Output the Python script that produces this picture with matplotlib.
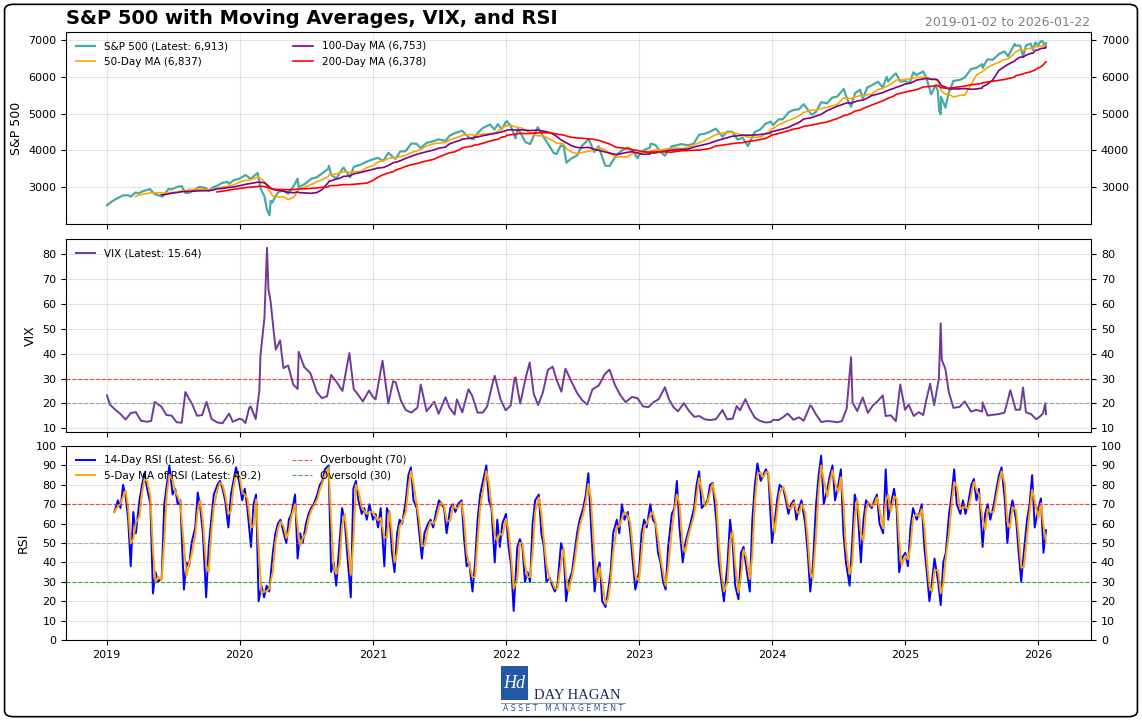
import numpy as np
import pandas as pd
import matplotlib
matplotlib.use('Agg')
import matplotlib.pyplot as plt
import matplotlib.dates as mdates
from matplotlib.patches import FancyBboxPatch, Rectangle
from matplotlib.lines import Line2D

# S&P 500 closes
spx_dates = [
    '2019-01-02', '2019-01-15', '2019-01-31', '2019-02-15', '2019-02-28', '2019-03-08', '2019-03-21',
    '2019-03-29', '2019-04-15', '2019-04-30', '2019-05-13', '2019-05-31', '2019-06-03', '2019-06-20',
    '2019-06-28', '2019-07-15', '2019-07-26', '2019-08-05', '2019-08-15', '2019-08-30', '2019-09-12',
    '2019-09-30', '2019-10-08', '2019-10-18', '2019-10-31', '2019-11-15', '2019-11-29', '2019-12-03',
    '2019-12-16', '2019-12-31',
    '2020-01-17', '2020-01-31', '2020-02-19', '2020-02-28', '2020-03-09', '2020-03-16', '2020-03-23',
    '2020-03-26', '2020-03-31', '2020-04-08', '2020-04-17', '2020-04-30', '2020-05-13', '2020-05-29',
    '2020-06-08', '2020-06-11', '2020-06-30', '2020-07-15', '2020-07-31', '2020-08-14', '2020-08-31',
    '2020-09-02', '2020-09-08', '2020-09-23', '2020-09-30', '2020-10-12', '2020-10-30', '2020-11-09',
    '2020-11-30', '2020-12-15', '2020-12-31',
    '2021-01-14', '2021-01-29', '2021-02-12', '2021-02-26', '2021-03-04', '2021-03-17', '2021-03-31',
    '2021-04-16', '2021-04-30', '2021-05-12', '2021-05-28', '2021-06-15', '2021-06-30', '2021-07-19',
    '2021-07-30', '2021-08-13', '2021-08-31', '2021-09-02', '2021-09-20', '2021-09-30', '2021-10-04',
    '2021-10-15', '2021-10-29', '2021-11-18', '2021-11-30', '2021-12-10', '2021-12-20', '2021-12-31',
    '2022-01-03', '2022-01-14', '2022-01-27', '2022-02-02', '2022-02-14', '2022-02-23', '2022-03-08',
    '2022-03-29', '2022-04-12', '2022-04-29', '2022-05-12', '2022-05-20', '2022-05-31', '2022-06-08',
    '2022-06-16', '2022-06-30', '2022-07-15', '2022-07-29', '2022-08-16', '2022-08-31', '2022-09-12',
    '2022-09-30', '2022-10-12', '2022-10-31', '2022-11-15', '2022-11-30', '2022-12-13', '2022-12-28',
    '2022-12-30',
    '2023-01-13', '2023-01-31', '2023-02-02', '2023-02-15', '2023-02-28', '2023-03-13', '2023-03-31',
    '2023-04-14', '2023-04-28', '2023-05-15', '2023-05-31', '2023-06-15', '2023-06-30', '2023-07-14',
    '2023-07-31', '2023-08-18', '2023-08-31', '2023-09-14', '2023-09-29', '2023-10-12', '2023-10-27',
    '2023-11-15', '2023-11-30', '2023-12-14', '2023-12-28', '2023-12-29',
    '2024-01-04', '2024-01-19', '2024-01-31', '2024-02-15', '2024-02-29', '2024-03-15', '2024-03-28',
    '2024-04-19', '2024-04-30', '2024-05-15', '2024-05-31', '2024-06-14', '2024-06-28', '2024-07-16',
    '2024-07-25', '2024-08-05', '2024-08-16', '2024-08-30', '2024-09-06', '2024-09-19', '2024-09-30',
    '2024-10-18', '2024-10-31', '2024-11-11', '2024-11-15', '2024-11-29', '2024-12-06', '2024-12-18',
    '2024-12-31',
    '2025-01-13', '2025-01-23', '2025-01-31', '2025-02-19', '2025-02-28', '2025-03-13', '2025-03-25',
    '2025-03-31', '2025-04-04', '2025-04-08', '2025-04-09', '2025-04-21', '2025-04-30', '2025-05-13',
    '2025-05-30', '2025-06-13', '2025-06-30', '2025-07-15', '2025-07-31', '2025-08-01', '2025-08-14',
    '2025-08-29', '2025-09-15', '2025-09-30', '2025-10-10', '2025-10-28', '2025-10-31', '2025-11-12',
    '2025-11-20', '2025-11-28', '2025-12-11', '2025-12-17', '2025-12-24', '2025-12-31',
    '2026-01-06', '2026-01-12', '2026-01-20', '2026-01-22',
]
spx_values = [
    2510, 2610, 2704, 2775, 2784, 2743, 2855, 2834, 2906, 2946, 2812, 2752, 2744, 2954, 2942, 3014,
    3026, 2845, 2848, 2926, 3010, 2977, 2893, 2986, 3038, 3120, 3141, 3093, 3191, 3231,
    3330, 3226, 3386, 2954, 2747, 2386, 2237, 2630, 2585, 2750, 2875, 2912, 2820, 3044, 3232, 3002,
    3100, 3227, 3271, 3373, 3500, 3580, 3332, 3237, 3363, 3534, 3270, 3550, 3622, 3695, 3756,
    3796, 3714, 3934, 3811, 3768, 3974, 3973, 4185, 4181, 4063, 4204, 4246, 4298, 4258, 4395, 4468,
    4523, 4537, 4358, 4308, 4300, 4471, 4605, 4704, 4567, 4712, 4568, 4766,
    4797, 4663, 4326, 4589, 4401, 4225, 4170, 4631, 4397, 4132, 3930, 3901, 4132, 4116, 3667, 3785,
    3863, 4130, 4305, 3955, 4110, 3586, 3577, 3872, 3992, 4080, 4019, 3783, 3840,
    3999, 4077, 4180, 4148, 3970, 3855, 4109, 4138, 4169, 4136, 4180, 4426, 4450, 4505, 4589, 4370,
    4508, 4505, 4288, 4349, 4117, 4502, 4568, 4720, 4783, 4770,
    4688, 4840, 4846, 5030, 5096, 5117, 5254, 4967, 5036, 5308, 5278, 5432, 5460, 5667, 5400, 5186,
    5554, 5648, 5408, 5713, 5762, 5864, 5705, 6001, 5870, 6032, 6090, 5872, 5882,
    5836, 6119, 6041, 6144, 5955, 5522, 5777, 5612, 5074, 4982, 5457, 5158, 5569, 5886, 5912, 5977,
    6205, 6244, 6339, 6238, 6469, 6460, 6615, 6688, 6553, 6891, 6840, 6851, 6539, 6849, 6901, 6721,
    6932, 6845,
    6944, 6977, 6797, 6913,
]

# VIX closes
vix_dates = [
    '2019-01-02', '2019-01-10', '2019-01-25', '2019-02-08', '2019-02-22', '2019-03-08', '2019-03-22',
    '2019-04-05', '2019-04-22', '2019-05-03', '2019-05-13', '2019-05-31', '2019-06-14', '2019-06-28',
    '2019-07-12', '2019-07-26', '2019-08-05', '2019-08-14', '2019-08-23', '2019-09-06', '2019-09-20',
    '2019-10-02', '2019-10-16', '2019-11-01', '2019-11-15', '2019-12-03', '2019-12-13', '2019-12-31',
    '2020-01-08', '2020-01-17', '2020-01-27', '2020-01-31', '2020-02-14', '2020-02-24', '2020-02-27',
    '2020-03-09', '2020-03-16', '2020-03-20', '2020-03-26', '2020-04-02', '2020-04-09', '2020-04-21',
    '2020-04-30', '2020-05-13', '2020-05-27', '2020-06-08', '2020-06-11', '2020-06-26', '2020-07-13',
    '2020-07-31', '2020-08-14', '2020-08-28', '2020-09-08', '2020-09-23', '2020-10-09', '2020-10-28',
    '2020-11-09', '2020-11-20', '2020-12-04', '2020-12-21', '2020-12-31',
    '2021-01-08', '2021-01-27', '2021-02-12', '2021-02-25', '2021-03-04', '2021-03-19', '2021-04-01',
    '2021-04-16', '2021-05-03', '2021-05-12', '2021-05-28', '2021-06-18', '2021-06-30', '2021-07-19',
    '2021-07-30', '2021-08-13', '2021-08-19', '2021-09-03', '2021-09-20', '2021-09-30', '2021-10-15',
    '2021-10-29', '2021-11-10', '2021-11-26', '2021-12-01', '2021-12-17', '2021-12-31',
    '2022-01-14', '2022-01-24', '2022-01-27', '2022-02-09', '2022-02-24', '2022-03-07', '2022-03-18',
    '2022-03-30', '2022-04-12', '2022-04-26', '2022-05-09', '2022-05-20', '2022-06-02', '2022-06-13',
    '2022-06-30', '2022-07-15', '2022-07-29', '2022-08-12', '2022-08-26', '2022-09-13', '2022-09-29',
    '2022-10-12', '2022-10-27', '2022-11-10', '2022-11-25', '2022-12-13', '2022-12-28',
    '2023-01-12', '2023-01-27', '2023-02-10', '2023-02-24', '2023-03-13', '2023-03-24', '2023-04-06',
    '2023-04-18', '2023-05-04', '2023-05-19', '2023-06-02', '2023-06-16', '2023-06-30', '2023-07-14',
    '2023-07-31', '2023-08-18', '2023-08-31', '2023-09-15', '2023-09-26', '2023-10-05', '2023-10-20',
    '2023-10-31', '2023-11-15', '2023-11-30', '2023-12-15', '2023-12-28',
    '2024-01-05', '2024-01-19', '2024-01-31', '2024-02-13', '2024-02-29', '2024-03-15', '2024-03-28',
    '2024-04-15', '2024-04-19', '2024-04-30', '2024-05-15', '2024-05-31', '2024-06-14', '2024-06-28',
    '2024-07-11', '2024-07-24', '2024-08-05', '2024-08-09', '2024-08-22', '2024-09-06', '2024-09-20',
    '2024-10-04', '2024-10-15', '2024-10-31', '2024-11-08', '2024-11-22', '2024-12-06', '2024-12-18',
    '2024-12-31',
    '2025-01-10', '2025-01-24', '2025-02-07', '2025-02-19', '2025-02-27', '2025-03-10', '2025-03-21',
    '2025-04-03', '2025-04-08', '2025-04-11', '2025-04-21', '2025-04-30', '2025-05-13', '2025-05-30',
    '2025-06-13', '2025-06-30', '2025-07-15', '2025-07-31', '2025-08-01', '2025-08-15', '2025-08-29',
    '2025-09-15', '2025-09-30', '2025-10-10', '2025-10-16', '2025-10-31', '2025-11-12', '2025-11-20',
    '2025-11-28', '2025-12-12', '2025-12-26',
    '2026-01-06', '2026-01-14', '2026-01-20', '2026-01-22',
]
vix_values = [
    23.2, 19.5, 17.4, 15.7, 13.5, 16.1, 16.5, 13.0, 12.6, 12.9, 20.6, 18.7, 15.3, 15.1, 12.4, 12.2,
    24.6, 22.1, 19.9, 15.0, 15.3, 20.6, 13.7, 12.3, 12.0, 15.9, 12.6, 13.8,
    13.5, 12.1, 18.2, 18.8, 13.7, 25.0, 39.2, 54.5, 82.7, 66.0, 61.0, 50.9, 41.7, 45.4, 34.2, 35.3,
    27.6, 25.8, 40.8, 34.7, 32.2, 24.5, 22.1, 22.9, 31.5, 28.6, 25.0, 40.3, 25.8, 23.7, 20.8, 25.2,
    22.8,
    21.6, 37.2, 19.9, 28.9, 28.6, 20.9, 17.3, 16.3, 18.3, 27.6, 16.8, 20.7, 15.8, 22.5, 18.2, 15.5,
    21.6, 16.4, 25.7, 23.1, 16.3, 16.3, 18.7, 28.6, 31.1, 21.6, 17.2,
    19.2, 29.9, 30.5, 19.9, 30.3, 36.5, 23.9, 19.3, 24.3, 33.5, 34.8, 29.4, 24.7, 34.0, 28.7, 24.2,
    21.3, 19.5, 25.6, 27.3, 31.8, 33.6, 27.4, 23.5, 20.5, 22.6, 22.1,
    18.8, 18.5, 20.5, 21.7, 26.5, 21.7, 18.4, 16.8, 20.1, 16.8, 14.6, 14.9, 13.6, 13.3, 13.6, 17.3,
    13.6, 13.8, 18.9, 17.2, 21.7, 18.1, 14.2, 12.9, 12.3, 12.5,
    13.4, 13.3, 14.4, 15.9, 13.4, 14.4, 13.0, 19.2, 18.7, 15.7, 12.5, 12.9, 12.7, 12.4, 12.9, 18.0,
    38.6, 20.4, 16.9, 22.4, 16.2, 19.2, 20.6, 23.2, 14.9, 15.2, 12.8, 27.6, 17.4,
    19.5, 14.9, 16.5, 15.3, 21.1, 27.9, 19.3, 30.0, 52.3, 37.6, 33.8, 24.7, 18.2, 18.6, 20.8, 16.7,
    17.4, 16.7, 20.4, 15.1, 15.4, 15.7, 16.3, 21.7, 25.3, 17.4, 17.5, 26.4, 16.4, 15.7, 13.6,
    14.8, 16.0, 20.1, 15.64,
]

# 14-day RSI, four readings a month (1st, 8th, 15th, 22nd); 2019 starts on Jan 22
rsi_2019 = [66,
            72, 68, 80, 74, 62, 38, 66, 55, 72, 80, 86, 78, 70, 24, 35, 30,
            32, 70, 80, 90, 75, 78, 70, 72, 26, 40, 38, 50, 58, 76, 68, 55,
            22, 48, 62, 75, 80, 82, 78, 72, 58, 75, 82, 89]
rsi_2020 = [80, 72, 78, 68, 48, 70, 75, 20, 28, 22, 28, 25, 45, 55, 60, 62,
            55, 50, 62, 65, 75, 42, 55, 50, 60, 65, 68, 70, 75, 80, 82, 88,
            90, 35, 40, 28, 50, 68, 62, 45, 22, 78, 82, 72, 65, 68, 62, 70]
rsi_2021 = [62, 65, 58, 68, 38, 68, 65, 45, 35, 55, 62, 60, 72, 85, 89, 72,
            68, 55, 42, 55, 60, 62, 58, 65, 72, 70, 68, 55, 68, 70, 66, 70,
            72, 52, 38, 40, 25, 40, 62, 75, 84, 90, 72, 68, 40, 62, 48, 60]
rsi_2022 = [65, 48, 38, 15, 48, 52, 48, 30, 35, 30, 60, 72, 75, 55, 48, 30,
            32, 28, 25, 28, 50, 45, 20, 30, 35, 45, 55, 62, 68, 75, 86, 60,
            25, 35, 40, 20, 17, 25, 35, 55, 62, 55, 70, 62, 66, 55, 40, 26]
rsi_2023 = [35, 55, 62, 58, 70, 62, 60, 45, 40, 30, 26, 48, 65, 68, 82, 58,
            40, 50, 55, 60, 68, 80, 87, 68, 70, 72, 80, 81, 62, 40, 30, 20,
            40, 62, 50, 28, 21, 45, 48, 38, 25, 62, 80, 91, 82, 85, 88, 85]
rsi_2024 = [50, 60, 72, 80, 78, 72, 65, 70, 72, 62, 68, 72, 60, 45, 25, 38,
            70, 85, 95, 70, 78, 85, 90, 72, 80, 88, 55, 40, 28, 50, 75, 70,
            40, 62, 72, 70, 68, 72, 75, 60, 55, 88, 62, 70, 78, 68, 35, 42]
rsi_2025 = [45, 38, 58, 68, 62, 65, 70, 48, 35, 20, 30, 42, 30, 18, 40, 45,
            65, 75, 88, 70, 65, 72, 65, 70, 80, 83, 72, 78, 48, 65, 70, 62,
            70, 78, 85, 89, 72, 50, 65, 72, 62, 45, 30, 45, 62, 70, 85, 58]
rsi_2026 = [68, 73, 45, 56.6]

COLORS = {
    'spx': '#46AAA6',
    'ma50': 'orange',
    'ma100': 'purple',
    'ma200': 'red',
    'vix': '#6E3B9C',
    'rsi': 'blue',
    'rsi_ma': 'orange',
}


def trailing_ma(s, days):
    """Calendar-day trailing mean, blank until the window is full."""
    ma = s.rolling(f'{days}D').mean()
    ma[s.index < s.index[0] + pd.Timedelta(days=days)] = np.nan
    return ma


spx = pd.Series(spx_values, index=pd.to_datetime(spx_dates))
vix = pd.Series(vix_values, index=pd.to_datetime(vix_dates))
ma50 = trailing_ma(spx, 72)
ma100 = trailing_ma(spx, 145)
ma200 = trailing_ma(spx, 290)

rsi_vals = rsi_2019 + rsi_2020 + rsi_2021 + rsi_2022 + rsi_2023 + rsi_2024 + rsi_2025 + rsi_2026
rsi_idx = [pd.Timestamp(year=y, month=m, day=d)
           for y in range(2019, 2027) for m in range(1, 13) for d in (1, 8, 15, 22)]
rsi_idx = [t for t in rsi_idx if pd.Timestamp('2019-01-22') <= t <= pd.Timestamp('2026-01-22')]
rsi = pd.Series(rsi_vals, index=pd.DatetimeIndex(rsi_idx))
rsi_ma = rsi.rolling(2, min_periods=1).mean()

fig = plt.figure(figsize=(11.42, 7.21), dpi=100)
left, width = 0.058, 0.8975
ax1 = fig.add_axes([left, 0.6893, width, 0.2663])
ax2 = fig.add_axes([left, 0.4008, width, 0.2677], sharex=ax1)
ax3 = fig.add_axes([left, 0.1123, width, 0.2691], sharex=ax1)

# --- S&P 500 panel
ax1.plot(spx.index, spx.values, color=COLORS['spx'], lw=1.6, label='S&P 500 (Latest: 6,913)')
ax1.plot(ma50.index, ma50.values, color=COLORS['ma50'], lw=1.2, label='50-Day MA (6,837)')
ax1.plot(ma100.index, ma100.values, color=COLORS['ma100'], lw=1.2, label='100-Day MA (6,753)')
ax1.plot(ma200.index, ma200.values, color=COLORS['ma200'], lw=1.2, label='200-Day MA (6,378)')
ax1.set_ylabel('S&P 500', fontsize=9)
ax1.set_yticks([3000, 4000, 5000, 6000, 7000])
ax1.legend(loc='upper left', ncol=2, fontsize=7.5, frameon=False, columnspacing=6.3,
           handlelength=1.9)

# --- VIX panel
ax2.plot(vix.index, vix.values, color=COLORS['vix'], lw=1.4, label='VIX (Latest: 15.64)')
ax2.axhline(30, color='red', ls='--', lw=0.8, alpha=0.7)
ax2.axhline(20, color='gray', ls='--', lw=0.8, alpha=0.7)
ax2.set_ylabel('VIX', fontsize=9)
ax2.set_yticks(range(10, 90, 10))
ax2.legend(loc='upper left', fontsize=7.5, frameon=False, handlelength=1.9)

# --- RSI panel
l_rsi, = ax3.plot(rsi.index, rsi.values, color=COLORS['rsi'], lw=1.4, label='14-Day RSI (Latest: 56.6)')
l_ma, = ax3.plot(rsi_ma.index, rsi_ma.values, color=COLORS['rsi_ma'], lw=1.4,
                 label='5-Day MA of RSI (Latest: 49.2)')
l_ob = ax3.axhline(70, color='red', ls='--', lw=0.8, alpha=0.7, label='Overbought (70)')
l_os = ax3.axhline(30, color='green', ls='--', lw=0.8, alpha=0.7, label='Oversold (30)')
ax3.axhline(50, color='gray', ls='--', lw=0.8, alpha=0.5)
ax3.set_ylim(0, 100)
ax3.set_yticks(range(0, 101, 10))
ax3.set_ylabel('RSI', fontsize=9)
ax3.legend(handles=[l_rsi, l_ma, l_ob, l_os], loc='upper left', ncol=2, fontsize=7.5,
           frameon=False, columnspacing=3.0, handlelength=1.9)

ax3.set_xlim(pd.Timestamp('2018-09-12'), pd.Timestamp('2026-05-26'))
ax3.xaxis.set_major_locator(mdates.YearLocator())
ax3.xaxis.set_major_formatter(mdates.DateFormatter('%Y'))

for ax in (ax1, ax2, ax3):
    ax.grid(True, color='gray', alpha=0.2, lw=0.8)
    ax.tick_params(axis='both', labelsize=8)
    ax.tick_params(axis='y', right=True, labelright=True)
for ax in (ax1, ax2):
    ax.tick_params(axis='x', labelbottom=False)

# Title and date range
fig.text(0.058, 0.975, 'S&P 500 with Moving Averages, VIX, and RSI', fontsize=14,
         fontweight='bold', va='center', ha='left')
fig.text(0.955, 0.969, '2019-01-02 to 2026-01-22', fontsize=9, color='gray',
         va='center', ha='right')

# Logo
fig.add_artist(Rectangle((0.4387, 0.0291), 0.0236, 0.0472, transform=fig.transFigure,
                         facecolor='#2458A6', edgecolor='none'))
fig.text(0.4505, 0.052, 'Hd', fontsize=13, color='white', family='Liberation Serif',
         style='italic', ha='center', va='center')
fig.text(0.4675, 0.0305, 'DAY HAGAN', fontsize=10.5, color='#1E2B5C', family='Liberation Serif',
         ha='left', va='baseline')
fig.add_artist(Line2D([0.4387, 0.5473], [0.0255, 0.0255], transform=fig.transFigure,
                      color='#9a9a9a', lw=0.8))
fig.text(0.493, 0.0175, 'A S S E T   M A N A G E M E N T', fontsize=5.6, color='#2458A6',
         ha='center', va='center')

# Rounded outer frame
fig.add_artist(FancyBboxPatch((0.004, 0.006), 0.992, 0.988,
                              boxstyle='round,pad=0,rounding_size=0.008',
                              transform=fig.transFigure, fill=False, lw=1.2, ec='black'))

fig.savefig('out.png', dpi=100)
